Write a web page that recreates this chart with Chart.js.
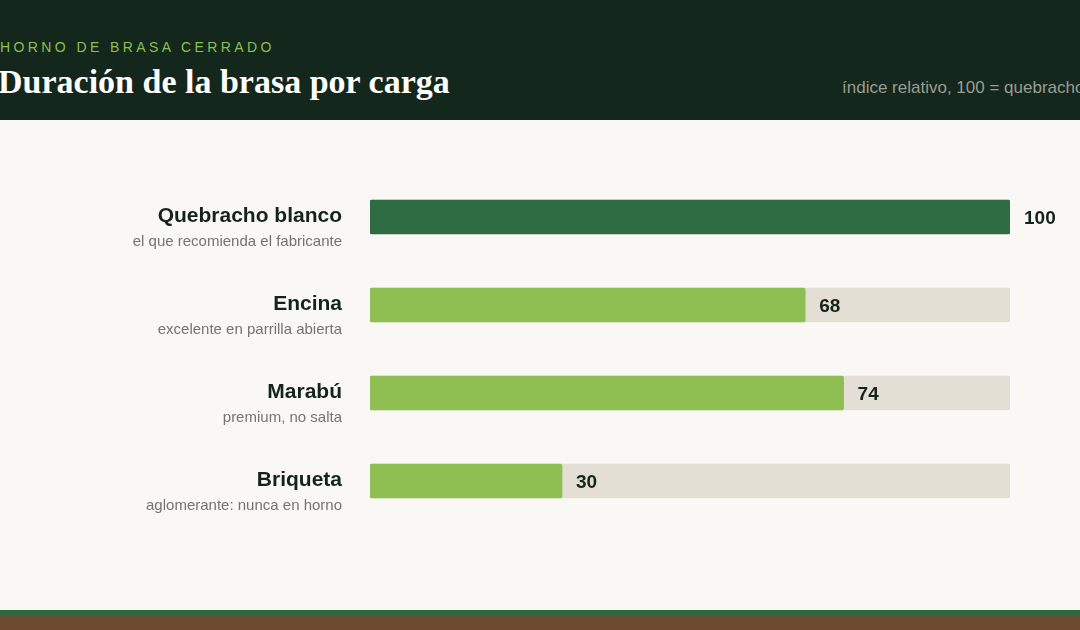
<!DOCTYPE html>
<html>
<head>
<meta charset="utf-8">
<script src="https://cdn.jsdelivr.net/npm/chart.js@4"></script>
<style>
  html, body { margin: 0; padding: 0; }
  body { width: 1080px; height: 630px; overflow: hidden; background: #f9f8f4; position: relative; }
  .header { position: absolute; left: 0; top: 0; width: 1080px; height: 120px; background: #13271d; overflow: hidden; }
  .kicker { position: absolute; left: 0; top: 39px; font: 14px "Liberation Sans", Arial, sans-serif; letter-spacing: 3.4px; color: #8cbf50; white-space: nowrap; }
  .title { position: absolute; left: -2px; top: 63px; font: bold 34px "Liberation Serif", "Times New Roman", serif; color: #ffffff; white-space: nowrap; }
  .sub { position: absolute; left: 842px; top: 78px; font: 17px "Liberation Sans", Arial, sans-serif; color: #9b9c90; white-space: nowrap; }
  .wrap { position: absolute; left: 0; top: 120px; width: 1080px; height: 490px; }
  .foot1 { position: absolute; left: 0; top: 610px; width: 1080px; height: 6px; background: #2e6a41; }
  .foot2 { position: absolute; left: 0; top: 616px; width: 1080px; height: 14px; background: #6b4a30; }
</style>
</head>
<body>
<div class="header">
  <div class="kicker">HORNO DE BRASA CERRADO</div>
  <div class="title">Duración de la brasa por carga</div>
  <div class="sub">índice relativo, 100 = quebracho</div>
</div>
<div class="wrap"><canvas id="brasaChart"></canvas></div>
<div class="foot1"></div>
<div class="foot2"></div>
<script>
const maderas = ['Quebracho blanco', 'Encina', 'Marabú', 'Briqueta'];
const notas = ['el que recomienda el fabricante', 'excelente en parrilla abierta', 'premium, no salta', 'aglomerante: nunca en horno'];
const duracion = [100, 68, 74, 30];
const escala = [100, 100, 100, 100];

const colorBarra = duracion.map((v, i) => i === 0 ? '#2f6b43' : '#8fbf52');

// etiquetas de la izquierda y valores al final de cada barra
const etiquetas = {
    id: 'etiquetas',
    afterDatasetsDraw(chart) {
        const c = chart.ctx;
        const x = chart.scales.x;
        const y = chart.scales.y;
        c.save();
        maderas.forEach((nombre, i) => {
            const cy = y.getPixelForTick(i);
            c.textAlign = 'right';
            c.textBaseline = 'middle';
            c.fillStyle = '#15241b';
            c.font = 'bold 21px "Liberation Sans", Arial, sans-serif';
            c.fillText(nombre, 342, cy - 1);
            c.fillStyle = '#74756d';
            c.font = '15px "Liberation Sans", Arial, sans-serif';
            c.fillText(notas[i], 342, cy + 25);

            c.textAlign = 'left';
            c.fillStyle = '#15241b';
            c.font = 'bold 19px "Liberation Sans", Arial, sans-serif';
            c.fillText(duracion[i], x.getPixelForValue(duracion[i]) + 14, cy + 2);
        });
        c.restore();
    }
};

new Chart(document.getElementById('brasaChart'), {
    type: 'bar',
    data: {
        labels: maderas,
        datasets: [
            {
                data: duracion,
                backgroundColor: colorBarra,
                borderRadius: 2,
                borderSkipped: false,
                barThickness: 34,
                grouped: false
            },
            {
                data: escala,
                backgroundColor: '#e3dfd4',
                borderRadius: 2,
                borderSkipped: false,
                barThickness: 34,
                grouped: false
            }
        ]
    },
    options: {
        indexAxis: 'y',
        responsive: true,
        maintainAspectRatio: false,
        animation: false,
        layout: { padding: { left: 370, right: 70, top: 53, bottom: 85 } },
        scales: {
            x: { display: false, min: 0, max: 100 },
            y: { display: false }
        },
        plugins: {
            legend: { display: false },
            tooltip: { enabled: false }
        }
    },
    plugins: [etiquetas]
});
</script>
</body>
</html>
